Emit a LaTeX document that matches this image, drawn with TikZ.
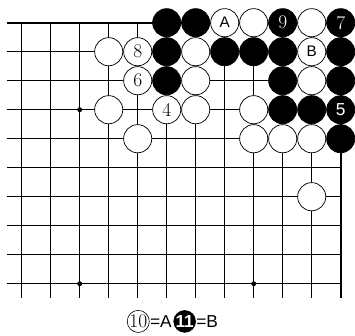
\documentclass[tikz,border=0pt]{standalone}
\usepackage{fontspec}
\newfontfamily\gosans{Liberation Sans}
\usetikzlibrary{positioning}
\tikzset{
    grid_line/.style={line width=0.7pt},
    edge_line/.style={line width=1.6pt},
    stone_white/.style={circle, draw, line width=0.7pt, fill=white, minimum size=0.97cm, inner sep=0pt, font=\fontsize{19}{19}\selectfont},
    stone_black/.style={circle, draw, line width=0.7pt, fill=black, text=white, minimum size=0.97cm, inner sep=0pt, font=\fontsize{19}{19}\selectfont},
    letter/.style={font=\gosans\fontsize{15}{15}\selectfont},
    hoshi/.style={circle, fill=black, minimum size=0.17cm, inner sep=0pt},
    key_white/.style={circle, draw, line width=0.6pt, fill=white, minimum size=0.75cm, inner sep=0pt, font=\fontsize{19}{19}\selectfont},
    key_black/.style={circle, draw, line width=0.6pt, fill=black, text=white, minimum size=0.75cm, inner sep=0pt, font=\gosans\bfseries\fontsize{17}{17}\selectfont},
    key_text/.style={inner sep=0pt, font=\gosans\fontsize{17}{17}\selectfont}
}
\begin{document}
\begin{tikzpicture}
    \useasboundingbox (-0.748,0.783) rectangle (11.493,-10.80);
    % board
    \foreach \r in {1,...,9} \draw [grid_line] (-0.5,-\r) -- (11,-\r);
    \foreach \c in {0,...,10} \draw [grid_line] (\c,0) -- (\c,-9.5);
    \draw [edge_line] (-0.5,0) -- (11,0) -- (11,-9.5);
    \node (hoshi-2-3) [hoshi] at (2,-3) {};
    \node (hoshi-2-9) [hoshi] at (2,-9) {};
    \node (hoshi-8-9) [hoshi] at (8,-9) {};

    % black stones
    \foreach \c/\r in {5/0, 6/0, 5/1, 7/1, 8/1, 9/1, 11/1, 5/2, 9/2, 11/2, 9/3, 10/3, 11/4}
        \node (b-\c-\r) [stone_black] at (\c,-\r) {};
    \node (b-9-0) [stone_black] at (9,0) {9};
    \node (b-11-0) [stone_black] at (11,0) {7};
    \node (b-11-3) [stone_black, font=\gosans\fontsize{17}{17}\selectfont] at (11,-3) {5};

    % white stones
    \foreach \c/\r in {8/0, 10/0, 3/1, 6/1, 6/2, 10/2, 3/3, 6/3, 8/3, 4/4, 8/4, 9/4, 10/4, 10/6}
        \node (w-\c-\r) [stone_white] at (\c,-\r) {};
    \node (w-7-0) [stone_white, letter] at (7,0) {A};
    \node (w-10-1) [stone_white, letter] at (10,-1) {B};
    \node (w-4-1) [stone_white] at (4,-1) {8};
    \node (w-4-2) [stone_white] at (4,-2) {6};
    \node (w-5-3) [stone_white] at (5,-3) {4};

    % key below the board
    \node (key10) [key_white] at (4.02,-10.30) {10};
    \node (keyA) [key_text, right=0.01cm of key10] {=A};
    \node (key11) [key_black, right=0.05cm of keyA] {11};
    \node (keyB) [key_text, right=0.01cm of key11] {=B};
\end{tikzpicture}
\end{document}
